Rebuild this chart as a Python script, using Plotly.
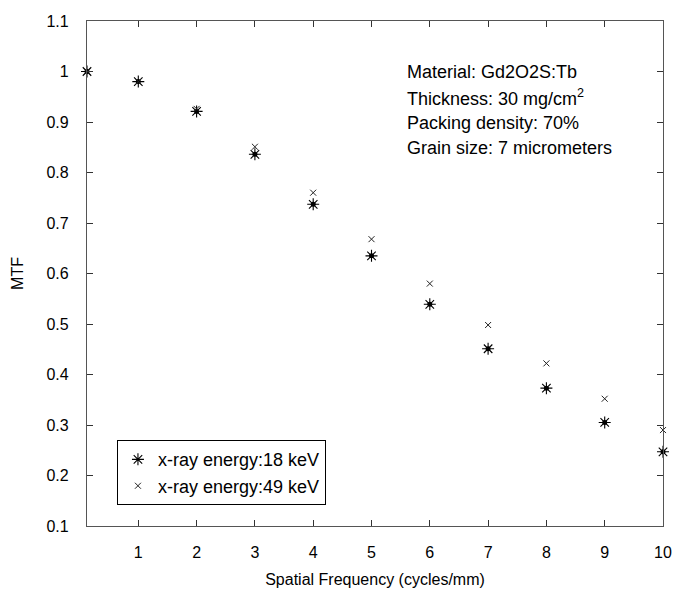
import plotly.graph_objects as go

freq = [0.12, 1, 2, 3, 4, 5, 6, 7, 8, 9, 10]
mtf_18kev = [1.0, 0.98, 0.921, 0.836, 0.737, 0.635, 0.539, 0.451, 0.373, 0.305, 0.247]
mtf_49kev = [1.0, 0.98, 0.926, 0.851, 0.76, 0.668, 0.58, 0.498, 0.422, 0.352, 0.29]
x_ticks = [1, 2, 3, 4, 5, 6, 7, 8, 9, 10]
y_ticks = [0.1, 0.2, 0.3, 0.4, 0.5, 0.6, 0.7, 0.8, 0.9, 1.0, 1.1]
y_tick_labels = ["0.1", "0.2", "0.3", "0.4", "0.5", "0.6", "0.7", "0.8", "0.9", "1", "1.1"]
info_lines = ["Material: Gd2O2S:Tb", "Thickness: 30 mg/cm<sup>2</sup>",
              "Packing density: 70%", "Grain size: 7 micrometers"]

FONT = "Liberation Sans, Arial, sans-serif"

fig = go.Figure()
fig.add_trace(go.Scatter(
    x=freq, y=mtf_18kev, mode="markers", name="x-ray energy:18 keV",
    marker=dict(symbol="asterisk-open", size=10, color="black",
                line=dict(color="black", width=1.1)),
    cliponaxis=False))
fig.add_trace(go.Scatter(
    x=freq, y=mtf_18kev, mode="markers", showlegend=False, hoverinfo="skip",
    marker=dict(symbol="circle", size=5, color="black"),
    cliponaxis=False))
fig.add_trace(go.Scatter(
    x=freq, y=mtf_49kev, mode="markers", name="x-ray energy:49 keV",
    marker=dict(symbol="x-thin-open", size=6, color="#222",
                line=dict(color="#222", width=1)),
    cliponaxis=False))

for txt, py in zip(info_lines, [0.899, 0.848, 0.798, 0.749]):
    fig.add_annotation(x=0.552, y=py, xref="paper", yref="paper", text=txt,
                       showarrow=False, xanchor="left", yanchor="middle",
                       font=dict(family=FONT, size=18, color="black"))

axis_common = dict(showline=True, linecolor="#555", linewidth=1.3, mirror="ticks",
                   ticks="inside", ticklen=6, tickcolor="#333", tickwidth=1.3,
                   showgrid=False, zeroline=False, automargin=False,
                   tickfont=dict(family=FONT, size=16, color="black"))

fig.update_layout(
    width=673, height=592,
    margin=dict(l=87, r=10, t=21, b=66, autoexpand=False),
    paper_bgcolor="white", plot_bgcolor="white",
    xaxis=dict(range=[0.12, 10], tickvals=x_ticks, ticklabelstandoff=12,
               title=dict(text="Spatial Frequency (cycles/mm)", standoff=13,
                          font=dict(family=FONT, size=16, color="black")),
               **axis_common),
    yaxis=dict(range=[0.1, 1.1], tickvals=y_ticks, ticktext=y_tick_labels,
               ticklabelstandoff=14,
               title=dict(text="MTF", standoff=18,
                          font=dict(family=FONT, size=16, color="black")),
               **axis_common),
    legend=dict(x=0.052, y=0.17, xanchor="left", yanchor="top",
                bordercolor="black", borderwidth=1, bgcolor="white",
                font=dict(family=FONT, size=18, color="black"),
                itemwidth=30, tracegroupgap=0),
    showlegend=True,
)

fig.write_html("out.html", config={"displayModeBar": False},
               post_script="document.body.style.margin='0';"
                           "document.body.style.overflow='hidden';")
